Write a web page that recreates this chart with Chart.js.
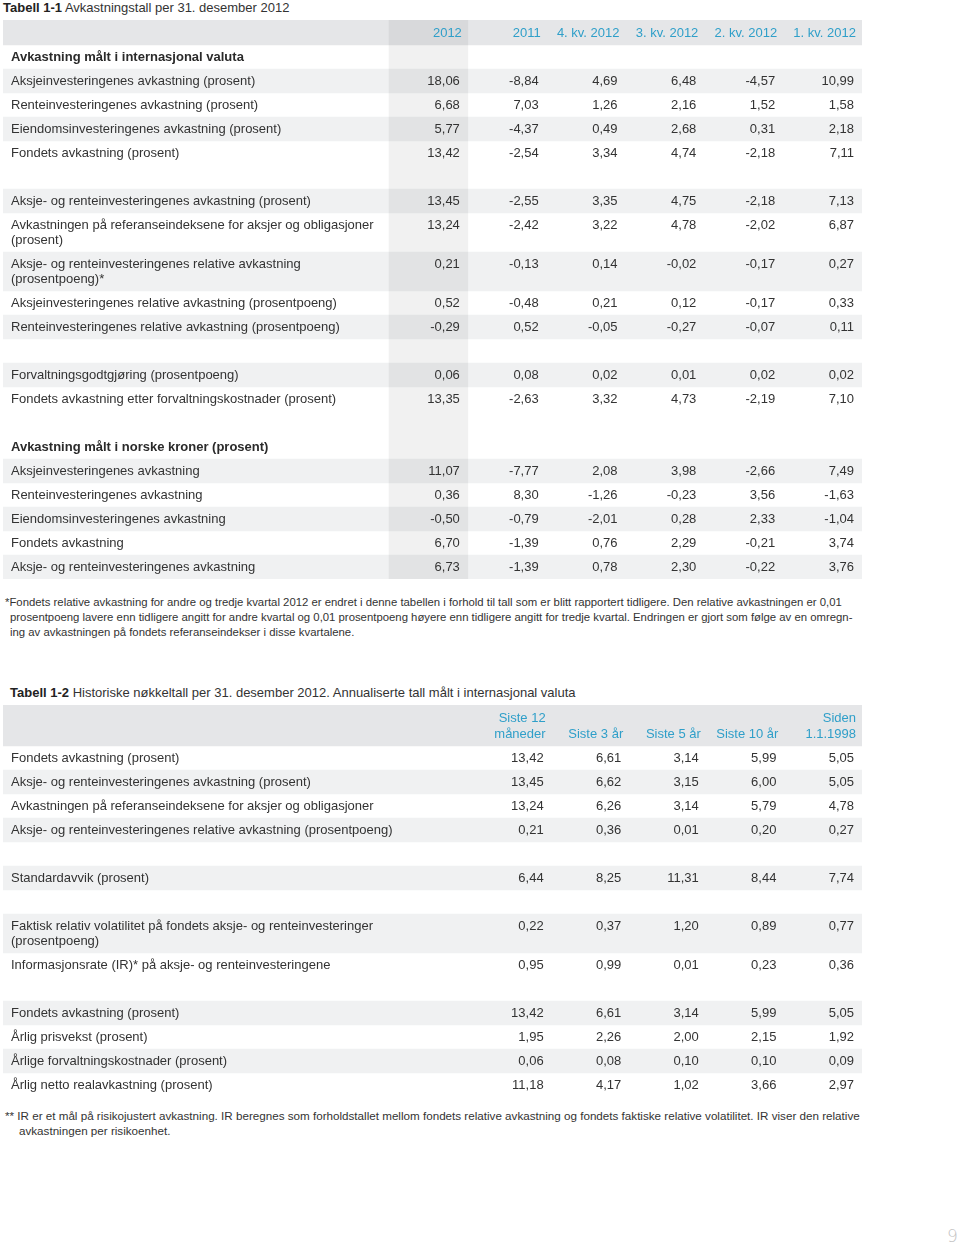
<!DOCTYPE html>
<html>
<head>
<meta charset="utf-8">
<script src="https://cdn.jsdelivr.net/npm/chart.js@4.4.1/dist/chart.umd.min.js"></script>
<style>
  html, body { margin: 0; padding: 0; background: #fff; }
  body { width: 960px; height: 1244px; position: relative; overflow: hidden;
         font-family: "Liberation Sans", Arial, sans-serif; color: #333; }
  .title { position: absolute; font-size: 13px; line-height: 16px; white-space: nowrap; color: #333; }
  .title b { color: #222; }
  .note { position: absolute; white-space: nowrap; color: #333; }
  canvas { position: absolute; }
  #page { position: absolute; left: 947px; top: 1226px; font-size: 17px; color: #c4c4c4; font-family: "DejaVu Sans", sans-serif; font-weight: 300; }
</style>
</head>
<body>
<div class="title" id="title1" style="left:3px;top:0px;"></div>
<canvas id="table1"></canvas>
<div class="note" id="note1" style="left:10px;top:595px;font-size:11.35px;line-height:15px;"></div>
<div class="title" id="title2" style="left:10px;top:685px;"></div>
<canvas id="table2"></canvas>
<div class="note" id="note2" style="left:19px;top:1108px;font-size:11.65px;line-height:15px;"></div>
<div id="page">9</div>
<script>
// ---------------- DATA: Tabell 1-1 ----------------
const t1TitleBold = 'Tabell 1-1';
const t1TitleText = ' Avkastningstall per 31. desember 2012';
const t1Columns = ['2012', '2011', '4. kv. 2012', '3. kv. 2012', '2. kv. 2012', '1. kv. 2012'];

const t1IntlSection = 'Avkastning målt i internasjonal valuta';
const t1IntlLabels = [
  'Aksjeinvesteringenes avkastning (prosent)',
  'Renteinvesteringenes avkastning (prosent)',
  'Eiendomsinvesteringenes avkastning (prosent)',
  'Fondets avkastning (prosent)'
];
const t1IntlValues = [
  [18.06, -8.84, 4.69, 6.48, -4.57, 10.99],
  [6.68, 7.03, 1.26, 2.16, 1.52, 1.58],
  [5.77, -4.37, 0.49, 2.68, 0.31, 2.18],
  [13.42, -2.54, 3.34, 4.74, -2.18, 7.11]
];

const t1RelLabels = [
  'Aksje- og renteinvesteringenes avkastning (prosent)',
  'Avkastningen på referanseindeksene for aksjer og obligasjoner\n(prosent)',
  'Aksje- og renteinvesteringenes relative avkastning\n(prosentpoeng)*',
  'Aksjeinvesteringenes relative avkastning (prosentpoeng)',
  'Renteinvesteringenes relative avkastning (prosentpoeng)'
];
const t1RelValues = [
  [13.45, -2.55, 3.35, 4.75, -2.18, 7.13],
  [13.24, -2.42, 3.22, 4.78, -2.02, 6.87],
  [0.21, -0.13, 0.14, -0.02, -0.17, 0.27],
  [0.52, -0.48, 0.21, 0.12, -0.17, 0.33],
  [-0.29, 0.52, -0.05, -0.27, -0.07, 0.11]
];

const t1FeeLabels = [
  'Forvaltningsgodtgjøring (prosentpoeng)',
  'Fondets avkastning etter forvaltningskostnader (prosent)'
];
const t1FeeValues = [
  [0.06, 0.08, 0.02, 0.01, 0.02, 0.02],
  [13.35, -2.63, 3.32, 4.73, -2.19, 7.10]
];

const t1NokSection = 'Avkastning målt i norske kroner (prosent)';
const t1NokLabels = [
  'Aksjeinvesteringenes avkastning',
  'Renteinvesteringenes avkastning',
  'Eiendomsinvesteringenes avkastning',
  'Fondets avkastning',
  'Aksje- og renteinvesteringenes avkastning'
];
const t1NokValues = [
  [11.07, -7.77, 2.08, 3.98, -2.66, 7.49],
  [0.36, 8.30, -1.26, -0.23, 3.56, -1.63],
  [-0.50, -0.79, -2.01, 0.28, 2.33, -1.04],
  [6.70, -1.39, 0.76, 2.29, -0.21, 3.74],
  [6.73, -1.39, 0.78, 2.30, -0.22, 3.76]
];

const t1Note = [
  '*Fondets relative avkastning for andre og tredje kvartal 2012 er endret i denne tabellen i forhold til tall som er blitt rapportert tidligere. Den relative avkastningen er 0,01',
  'prosentpoeng lavere enn tidligere angitt for andre kvartal og 0,01 prosentpoeng høyere enn tidligere angitt for tredje kvartal. Endringen er gjort som følge av en omregn-',
  'ing av avkastningen på fondets referanseindekser i disse kvartalene.'
];

// ---------------- DATA: Tabell 1-2 ----------------
const t2TitleBold = 'Tabell 1-2';
const t2TitleText = ' Historiske nøkkeltall per 31. desember 2012. Annualiserte tall målt i internasjonal valuta';
const t2Columns = ['Siste 12\nmåneder', 'Siste 3 år', 'Siste 5 år', 'Siste 10 år', 'Siden\n1.1.1998'];

const t2ReturnLabels = [
  'Fondets avkastning (prosent)',
  'Aksje- og renteinvesteringenes avkastning (prosent)',
  'Avkastningen på referanseindeksene for aksjer og obligasjoner',
  'Aksje- og renteinvesteringenes relative avkastning (prosentpoeng)'
];
const t2ReturnValues = [
  [13.42, 6.61, 3.14, 5.99, 5.05],
  [13.45, 6.62, 3.15, 6.00, 5.05],
  [13.24, 6.26, 3.14, 5.79, 4.78],
  [0.21, 0.36, 0.01, 0.20, 0.27]
];

const t2StdLabels = ['Standardavvik (prosent)'];
const t2StdValues = [[6.44, 8.25, 11.31, 8.44, 7.74]];

const t2RiskLabels = [
  'Faktisk relativ volatilitet på fondets aksje- og renteinvesteringer\n(prosentpoeng)',
  'Informasjonsrate (IR)* på aksje- og renteinvesteringene'
];
const t2RiskValues = [
  [0.22, 0.37, 1.20, 0.89, 0.77],
  [0.95, 0.99, 0.01, 0.23, 0.36]
];

const t2RealLabels = [
  'Fondets avkastning (prosent)',
  'Årlig prisvekst (prosent)',
  'Årlige forvaltningskostnader (prosent)',
  'Årlig netto realavkastning (prosent)'
];
const t2RealValues = [
  [13.42, 6.61, 3.14, 5.99, 5.05],
  [1.95, 2.26, 2.00, 2.15, 1.92],
  [0.06, 0.08, 0.10, 0.10, 0.09],
  [11.18, 4.17, 1.02, 3.66, 2.97]
];

const t2Note = [
  '** IR er et mål på risikojustert avkastning. IR beregnes som forholdstallet mellom fondets relative avkastning og fondets faktiske relative volatilitet. IR viser den relative',
  'avkastningen per risikoenhet.'
];

// ---------------- LAYOUT / STYLE ----------------
const ROW_H = 24, LINE_H = 15;
const FONT = '13px "Liberation Sans", Arial, sans-serif';
const FONT_BOLD = 'bold 13px "Liberation Sans", Arial, sans-serif';
const TEXT = '#333333', BLUE = '#2f9fc9';
const HEAD_BG = '#e5e6e8', ROW_BG = '#f0f1f2', BAND_BG = 'rgba(0,0,0,0.055)';

function fmt(v) { return v.toFixed(2).replace('.', ','); }

function buildRows(columns, groups) {
  const rows = [];
  let top = 0;
  const hLines = Math.max(...columns.map(c => c.split('\n').length));
  const hH = ROW_H + 1 + (LINE_H + 1) * (hLines - 1);
  rows.push({ kind: 'header', top, height: hH, lines: hLines, shaded: true });
  top += hH;
  let nextShaded = false;
  groups.forEach((g, gi) => {
    if (gi > 0) { rows.push({ kind: 'blank', top, height: ROW_H, shaded: false }); top += ROW_H; nextShaded = true; }
    if (g.section) { rows.push({ kind: 'section', top, height: ROW_H, label: g.section, shaded: false }); top += ROW_H; nextShaded = true; }
    g.labels.forEach((lab, i) => {
      const n = lab.split('\n').length;
      const h = ROW_H + LINE_H * (n - 1);
      rows.push({ kind: 'item', top, height: h, label: lab, values: g.values[i], shaded: nextShaded });
      nextShaded = !nextShaded;
      top += h;
    });
  });
  return { rows, total: top };
}

function textPlugin(columns, rows) {
  return {
    id: 'tableText',
    afterDatasetsDraw(chart) {
      const ctx = chart.ctx, xs = chart.scales.x, ys = chart.scales.y;
      const left = xs.getPixelForValue(xs.min) + 8;
      ctx.save();
      ctx.textBaseline = 'middle';
      rows.forEach(r => {
        if (r.kind === 'header') {
          ctx.font = FONT; ctx.fillStyle = BLUE; ctx.textAlign = 'right';
          columns.forEach((c, ci) => {
            const lines = c.split('\n');
            const x = xs.getPixelForValue(ci + 1) - 6;
            lines.forEach((ln, li) => {
              ctx.fillText(ln, x, ys.getPixelForValue(r.top + 13 + (LINE_H + 1) * (li + r.lines - lines.length)));
            });
          });
        } else if (r.kind === 'section') {
          ctx.font = FONT_BOLD; ctx.fillStyle = '#2a2a2a'; ctx.textAlign = 'left';
          ctx.fillText(r.label, left, ys.getPixelForValue(r.top + 12.5));
        } else if (r.kind === 'item') {
          ctx.font = FONT; ctx.fillStyle = TEXT; ctx.textAlign = 'left';
          r.label.split('\n').forEach((ln, li) => ctx.fillText(ln, left, ys.getPixelForValue(r.top + 12.5 + LINE_H * li)));
          ctx.textAlign = 'right';
          r.values.forEach((v, ci) => ctx.fillText(fmt(v), xs.getPixelForValue(ci + 1) - 8, ys.getPixelForValue(r.top + 12.5)));
        }
      });
      ctx.restore();
    }
  };
}

function makeTable(canvasId, pos, columns, groups, labelUnits, bandColumn) {
  const { rows, total } = buildRows(columns, groups);
  const cv = document.getElementById(canvasId);
  cv.width = pos.width; cv.height = total;
  cv.style.left = pos.left + 'px'; cv.style.top = pos.top + 'px';
  cv.style.width = pos.width + 'px'; cv.style.height = total + 'px';
  const datasets = [];
  if (bandColumn !== null) {
    datasets.push({
      type: 'bar', indexAxis: 'y', xAxisID: 'x', yAxisID: 'yBand', order: 0,
      data: [{ y: 'band', x: [bandColumn, bandColumn + 1] }],
      backgroundColor: BAND_BG, borderWidth: 0, barPercentage: 1, categoryPercentage: 1, grouped: false
    });
  }
  const shaded = rows.filter(r => r.shaded);
  datasets.push({
    type: 'bar', indexAxis: 'x', xAxisID: 'xStripe', yAxisID: 'y', order: 1,
    data: shaded.map(r => ({ x: 'row', y: [r.top, r.top + r.height] })),
    backgroundColor: shaded.map(r => r.kind === 'header' ? HEAD_BG : ROW_BG),
    borderWidth: 0, barPercentage: 1, categoryPercentage: 1, grouped: false
  });
  return new Chart(cv, {
    type: 'bar',
    data: { datasets },
    options: {
      responsive: false, maintainAspectRatio: false, animation: false, events: [],
      layout: { padding: 0 },
      plugins: { legend: { display: false }, tooltip: { enabled: false } },
      scales: {
        x: { type: 'linear', min: -labelUnits, max: columns.length, offset: false, grace: 0, display: false, grid: { offset: false } },
        y: { type: 'linear', min: 0, max: total, reverse: true, offset: false, grace: 0, display: false, grid: { offset: false } },
        xStripe: { type: 'category', labels: ['row'], offset: true, display: false },
        yBand: { type: 'category', labels: ['band'], offset: true, display: false }
      }
    },
    plugins: [textPlugin(columns, rows)]
  });
}

// titles and notes
document.getElementById('title1').innerHTML = '<b>' + t1TitleBold + '</b>' + t1TitleText;
document.getElementById('title2').innerHTML = '<b>' + t2TitleBold + '</b>' + t2TitleText;
const n1 = document.getElementById('note1');
n1.innerHTML = t1Note.map((l, i) => '<div style="' + (i === 0 ? 'margin-left:-5px' : '') + '">' + l + '</div>').join('');
const n2 = document.getElementById('note2');
n2.innerHTML = t2Note.map((l, i) => '<div style="' + (i === 0 ? 'margin-left:-14px' : '') + '">' + l + '</div>').join('');

makeTable('table1', { left: 3, top: 20, width: 859 }, t1Columns, [
  { section: t1IntlSection, labels: t1IntlLabels, values: t1IntlValues },
  { labels: t1RelLabels, values: t1RelValues },
  { labels: t1FeeLabels, values: t1FeeValues },
  { section: t1NokSection, labels: t1NokLabels, values: t1NokValues }
], 4.897, 0);

makeTable('table2', { left: 3, top: 705, width: 859 }, t2Columns, [
  { labels: t2ReturnLabels, values: t2ReturnValues },
  { labels: t2StdLabels, values: t2StdValues },
  { labels: t2RiskLabels, values: t2RiskValues },
  { labels: t2RealLabels, values: t2RealValues }
], 6.07, null);
</script>
</body>
</html>
